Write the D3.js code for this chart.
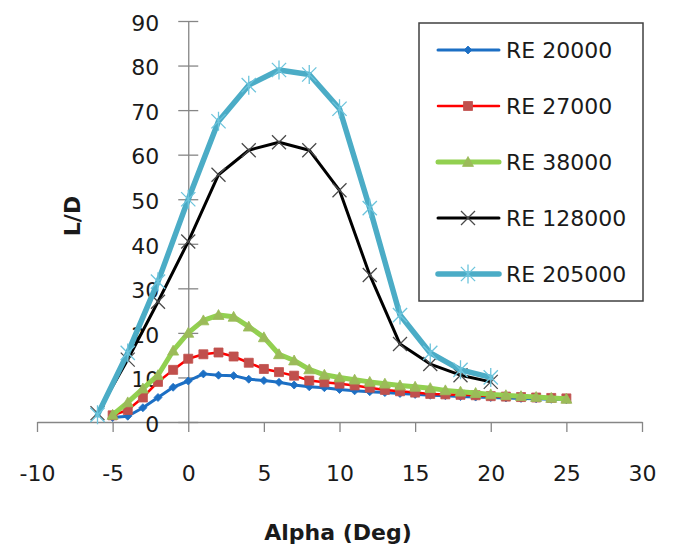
<!DOCTYPE html>
<html><head><meta charset="utf-8">
<script src="https://cdn.jsdelivr.net/npm/d3@7"></script>
<style>body{margin:0;background:#fff}svg{display:block;font-family:"DejaVu Sans",sans-serif}</style>
</head><body>
<svg id="c" width="673" height="546"></svg>
<script>
// ---- data ----
const alphaLow = [-5,-4,-3,-2,-1,0,1,2,3,4,5,6,7,8,9,10,11,12,13,14,15,16,17,18,19,20,21,22,23,24,25];
const alphaHigh = [-6,-4,-2,0,2,4,6,8,10,12,14,16,18,20];
const re20000 = [1.0,1.3,3.2,5.5,7.8,9.2,10.8,10.5,10.4,9.6,9.3,8.9,8.3,7.9,7.7,7.3,7.0,6.8,6.6,6.4,6.2,6.0,5.9,5.7,5.6,5.5,5.4,5.3,5.2,5.1,5.0];
const re27000 = [1.5,2.7,5.5,9.0,11.7,14.2,15.2,15.6,14.7,13.3,11.9,11.2,10.4,9.3,8.9,8.6,8.2,7.7,7.2,6.9,6.6,6.3,6.2,6.1,6.0,5.8,5.7,5.6,5.5,5.4,5.3];
const re38000 = [1.6,4.4,7.5,10.5,16.0,20.0,22.8,24.0,23.6,21.4,19.0,15.2,13.8,11.8,10.6,10.0,9.5,9.0,8.6,8.2,7.9,7.6,7.1,6.8,6.5,6.2,6.0,5.8,5.6,5.4,5.2];
const re128000 = [2.0,14.0,27.0,40.5,55.5,61.0,62.8,61.0,52.0,33.0,17.5,13.0,10.5,9.0];
const re205000 = [1.6,15.5,31.5,50.0,67.5,75.6,79.0,78.0,70.3,48.0,24.0,15.5,11.7,10.0];
const seriesNames = ["RE 20000","RE 27000","RE 38000","RE 128000","RE 205000"];
const xTicks = [-10,-5,0,5,10,15,20,25,30];
const yTicks = [0,10,20,30,40,50,60,70,80,90];

// ---- styles ----
const styles = [
  {line:"#1c6fc4", w:3,   marker:"diamond",  mfill:"#1c6fc4", mstroke:"#1c6fc4", ms:8},
  {line:"#ff0000", w:2.5, marker:"square",   mfill:"#c0504d", mstroke:"#c0504d", ms:9},
  {line:"#92d050", w:5,   marker:"triangle", mfill:"#9bbb59", mstroke:"#9bbb59", ms:11},
  {line:"#000000", w:3,   marker:"x",        mfill:"none",    mstroke:"#4a4a4a", ms:14},
  {line:"#4bacc6", w:5.5, marker:"star",     mfill:"none",    mstroke:"#6cc4dc", ms:19}
];
const series = [
  {name:seriesNames[0], xs:alphaLow,  ys:re20000},
  {name:seriesNames[1], xs:alphaLow,  ys:re27000},
  {name:seriesNames[2], xs:alphaLow,  ys:re38000},
  {name:seriesNames[3], xs:alphaHigh, ys:re128000},
  {name:seriesNames[4], xs:alphaHigh, ys:re205000}
];

const svg = d3.select("#c");
const x = d3.scaleLinear().domain([-10,30]).range([37,642]);
const y = d3.scaleLinear().domain([0,90]).range([422,21]);
const axisColor = "#868686";
const fontSize = 22;
const fmt = d => String(d);

// x axis at y=0
const gx = svg.append("g").attr("transform",`translate(0,${y(0)})`)
  .call(d3.axisBottom(x).tickValues(xTicks).tickFormat(fmt).tickSize(10).tickSizeOuter(0).tickPadding(33));
gx.select(".domain").attr("stroke",axisColor).attr("stroke-width",1.3);
gx.selectAll(".tick line").attr("stroke",axisColor).attr("stroke-width",1.3);
gx.selectAll(".tick text").attr("font-size",fontSize).attr("fill","#1a1a1a").attr("font-family","DejaVu Sans");

// y axis at x=0
const gy = svg.append("g").attr("transform",`translate(${x(0)},0)`)
  .call(d3.axisLeft(y).tickValues(yTicks).tickFormat(fmt).tickSize(10).tickSizeOuter(0).tickPadding(19));
gy.select(".domain").attr("stroke",axisColor).attr("stroke-width",1.3);
gy.selectAll(".tick line").attr("stroke",axisColor).attr("stroke-width",1.3).attr("x2",10).attr("x1",-10);
gy.selectAll(".tick text").attr("font-size",fontSize).attr("fill","#1a1a1a").attr("font-family","DejaVu Sans").attr("dy","0.42em");

// markers
function markerPath(type, s){
  const h = s/2;
  switch(type){
    case "diamond": return `M0,${-h}L${h},0L0,${h}L${-h},0Z`;
    case "square": return `M${-h},${-h}H${h}V${h}H${-h}Z`;
    case "triangle": return `M0,${-h}L${h},${h*0.8}L${-h},${h*0.8}Z`;
    case "x": return `M${-h},${-h}L${h},${h}M${h},${-h}L${-h},${h}`;
    case "star": { const k=h*0.75; return `M${-k},${-k}L${k},${k}M${k},${-k}L${-k},${k}M0,${-h}V${h}`; }
  }
}

const line = d3.line();
series.forEach((s,i)=>{
  const st = styles[i];
  const pts = s.xs.map((v,j)=>[x(v), y(s.ys[j])]);
  const g = svg.append("g");
  g.append("path").attr("d", line(pts)).attr("fill","none").attr("stroke",st.line)
    .attr("stroke-width",st.w).attr("stroke-linejoin","round").attr("stroke-linecap","round");
  g.selectAll("path.m").data(pts).join("path").attr("class","m")
    .attr("transform",d=>`translate(${d[0]},${d[1]})`)
    .attr("d",markerPath(st.marker, st.ms))
    .attr("fill",st.mfill).attr("stroke",st.mstroke)
    .attr("stroke-width", (st.marker==="x"||st.marker==="star")?1.3:0.8);
});

// legend
const lg = svg.append("g");
lg.append("rect").attr("x",419).attr("y",23).attr("width",224).attr("height",278)
  .attr("fill","#fff").attr("stroke","#404040").attr("stroke-width",1.5);
const ly = d3.scalePoint().domain(seriesNames).range([50,274]);
seriesNames.forEach((n,i)=>{
  const st = styles[i];
  const cy = ly(n);
  lg.append("line").attr("x1",438).attr("x2",499).attr("y1",cy).attr("y2",cy)
    .attr("stroke",st.line).attr("stroke-width",st.w).attr("stroke-linecap","round");
  lg.append("path").attr("transform",`translate(468,${cy})`).attr("d",markerPath(st.marker, st.ms))
    .attr("fill",st.mfill).attr("stroke",st.mstroke)
    .attr("stroke-width",(st.marker==="x"||st.marker==="star")?1.3:0.8);
  lg.append("text").attr("x",506).attr("y",cy+8).attr("font-size",fontSize).attr("fill","#1a1a1a").text(n);
});

// axis titles
svg.append("text").attr("x",338).attr("y",540).attr("text-anchor","middle")
  .attr("font-size",fontSize).attr("font-weight","bold").attr("fill","#1a1a1a").text("Alpha (Deg)");
svg.append("text").attr("transform","translate(80,216) rotate(-90)").attr("text-anchor","middle")
  .attr("font-size",fontSize).attr("font-weight","bold").attr("fill","#1a1a1a").text("L/D");
</script>
</body></html>
